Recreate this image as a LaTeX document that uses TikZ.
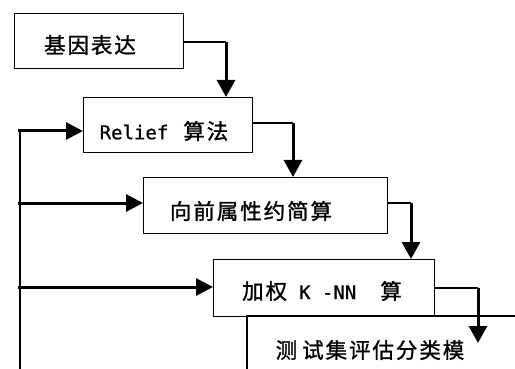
\documentclass[tikz,border=0pt]{standalone}
\usepackage{fontspec}
\setmainfont{Noto Sans CJK SC}
\newfontfamily\cjk[LetterSpace=9,FakeBold=1.2]{Noto Sans CJK SC}
\newfontfamily\latmono[FakeBold=0.8]{DejaVu Sans Mono}
\usetikzlibrary{arrows.meta}
\begin{document}
\begin{tikzpicture}[x=1pt,y=-1pt,
  box/.style={draw, line width=1.3pt, inner sep=0pt, anchor=north west},
  lbl/.style={inner sep=0pt, font=\fontsize{21.5pt}{24pt}\cjk},
  thinline/.style={line width=1.3pt},
  trunk/.style={line width=2.4pt},
  varrow/.style={line width=3pt, -{Triangle[length=17pt,width=18pt]}},
  harrow/.style={line width=3pt, -{Triangle[length=17pt,width=17pt]}}]
\useasboundingbox (0,0) rectangle (515,369);
% boxes
\node[box, minimum width=169pt, minimum height=55pt] (b1) at (14,13) {};
\node[box, minimum width=169pt, minimum height=55pt] (b2) at (83,97) {};
\node[box, minimum width=244pt, minimum height=56pt] (b3) at (143,177) {};
\node[box, minimum width=221pt, minimum height=57pt] (b4) at (213,259) {};
% partly visible fifth box
\coordinate (b5tl) at (247,316);
\coordinate (b5bl) at (247,372);
\coordinate (b5tr) at (518,316);
\draw[thinline] (b5bl) -- (b5tl) -- (b5tr);
% labels
\node[lbl] (t1) at (90,45) {基因表达};
\node[lbl] (t2) at (164,131) {{\latmono\fontsize{19pt}{20pt}\selectfont Relief\ }\,算法};
\node[lbl] (t3) at (251,211) {向前属性约简算};
\node[lbl] (t4) at (322,291) {加权\hspace{12pt}{\latmono\fontsize{19pt}{20pt}\selectfont K -NN}\hspace{24pt}算};
\node[lbl] (t5) at (370,350) {测\hspace{5pt}试集评估分类模};
% down connectors
\coordinate (k1) at (226,42);
\coordinate (k2) at (293,123);
\coordinate (k3) at (411,203);
\coordinate (k4) at (478,288);
\coordinate (e4) at (478,343);
\draw[thinline] (b1.east |- k1) -- (k1);
\draw[varrow] (k1) -- (k1 |- b2.north);
\draw[thinline] (b2.east |- k2) -- (k2);
\draw[varrow] (k2) -- (k2 |- b3.north);
\draw[thinline] (b3.east |- k3) -- (k3);
\draw[varrow] (k3) -- (k3 |- b4.north);
\draw[thinline] (b4.east |- k4) -- (k4);
\draw[varrow] (k4) -- (e4);
% feedback trunk
\coordinate (tt) at (20,131);
\coordinate (tb) at (20,372);
\draw[trunk] (tt) -- (tb);
\draw[harrow] (18,131) -- (b2.west |- 0,131);
\draw[harrow] (18,203) -- (b3.west |- 0,203);
\draw[harrow] (18,287) -- (b4.west |- 0,287);
\end{tikzpicture}
\end{document}
